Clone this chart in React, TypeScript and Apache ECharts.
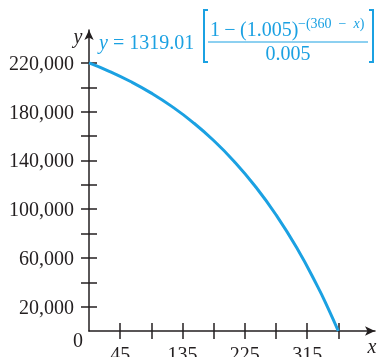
import React, { useEffect, useRef } from "react";
import * as echarts from "echarts";

const xValues = [0, 30, 60, 90, 120, 150, 180, 210, 240, 270, 300, 330, 345, 360];
const yValues = [220000, 212928, 204722, 195187, 184108, 171248, 156308, 138958, 118809, 95410, 68227, 36660, 19018, 0];
const xTicks = [45, 90, 135, 180, 225, 270, 315, 360];
const xLabels = [45, 135, 225, 315];
const yTicks = [20000, 40000, 60000, 80000, 100000, 120000, 140000, 160000, 180000, 200000, 220000];
const yLabels = [20000, 60000, 100000, 140000, 180000, 220000];

const BLUE = "#1ba1e2";
const INK = "#231f20";
const FONT = "'Liberation Serif', 'Times New Roman', serif";

export default function App() {
  const ref = useRef<HTMLDivElement>(null);
  useEffect(() => {
    if (!ref.current) return;
    const chart = echarts.init(ref.current, undefined, { renderer: "svg" });
    const axisLineStyle = { color: INK, width: 1.5 };
    const labelStyle = { fontSize: 20, fontFamily: FONT, color: INK };
    const fmt = (v: number) => v.toLocaleString("en-US");
    const blueText = (x: number, y: number, text: string, size: number, align: string) => ({
      type: "text", x, y,
      style: {
        text, fontSize: size, fontFamily: FONT, fill: BLUE, align, verticalAlign: "middle",
        rich: { i: { fontSize: size, fontStyle: "italic", fontFamily: FONT, fill: BLUE } },
      },
    });
    chart.setOption({
      animation: false,
      grid: { left: 89, top: 30, width: 286, bottom: 26, containLabel: false, outerBoundsMode: "none" },
      xAxis: [
        {
          type: "value", min: 0, max: 413, position: "bottom",
          axisLine: { show: true, onZero: false, lineStyle: axisLineStyle, symbol: ["none", "arrow"], symbolSize: [7, 10] },
          axisTick: { show: true, customValues: xTicks, length: 8, lineStyle: axisLineStyle },
          axisLabel: { show: true, customValues: xLabels, margin: 13, ...labelStyle },
          splitLine: { show: false },
        },
        {
          type: "value", min: 0, max: 413, position: "bottom",
          axisLine: { show: false, onZero: false },
          axisTick: { show: true, inside: true, customValues: xTicks, length: 8, lineStyle: axisLineStyle },
          axisLabel: { show: false },
          splitLine: { show: false },
        },
      ],
      yAxis: [
        {
          type: "value", min: 0, max: 247000, position: "left",
          axisLine: { show: true, onZero: false, lineStyle: axisLineStyle, symbol: ["none", "arrow"], symbolSize: [7, 10] },
          axisTick: { show: true, customValues: yTicks, length: 8, lineStyle: axisLineStyle },
          axisLabel: { show: true, customValues: yLabels, margin: 15, formatter: fmt, ...labelStyle },
          splitLine: { show: false },
        },
        {
          type: "value", min: 0, max: 247000, position: "left",
          axisLine: { show: false, onZero: false },
          axisTick: { show: true, inside: true, customValues: yTicks, length: 8, lineStyle: axisLineStyle },
          axisLabel: { show: false },
          splitLine: { show: false },
        },
      ],
      series: [
        {
          type: "line",
          xAxisIndex: 0,
          yAxisIndex: 0,
          smooth: true,
          symbol: "none",
          lineStyle: { color: BLUE, width: 3 },
          data: xValues.map((x, i) => [x, yValues[i]]),
        },
      ],
      graphic: [
        { type: "text", x: 78, y: 340, style: { text: "0", fontSize: 20, fontFamily: FONT, fill: INK, align: "center", verticalAlign: "middle" } },
        { type: "text", x: 372, y: 346, style: { text: "x", fontSize: 20, fontStyle: "italic", fontFamily: FONT, fill: INK, align: "center", verticalAlign: "middle" } },
        { type: "text", x: 78, y: 36, style: { text: "y", fontSize: 20, fontStyle: "italic", fontFamily: FONT, fill: INK, align: "center", verticalAlign: "middle" } },
        blueText(99, 42, "{i|y} = 1319.01", 20, "left"),
        { type: "polyline", shape: { points: [[208, 10], [204, 10], [204, 62], [208, 62]] }, style: { stroke: BLUE, lineWidth: 2, fill: "none" } },
        { type: "polyline", shape: { points: [[369, 10], [373, 10], [373, 62], [369, 62]] }, style: { stroke: BLUE, lineWidth: 2, fill: "none" } },
        { type: "line", shape: { x1: 208, y1: 42, x2: 368, y2: 42 }, style: { stroke: BLUE, lineWidth: 1 } },
        blueText(210, 29, "1", 20, "left"),
        blueText(230, 29, "−", 20, "center"),
        blueText(240, 29, "(1.005)", 20, "left"),
        blueText(298, 23, "−(360\u2002−\u2002{i|x})", 14, "left"),
        blueText(288, 52.5, "0.005", 20, "center"),
      ],
    });
    return () => chart.dispose();
  }, []);
  return <div ref={ref} style={{ position: "fixed", left: 0, top: 0, width: 379, height: 357 }} />;
}
